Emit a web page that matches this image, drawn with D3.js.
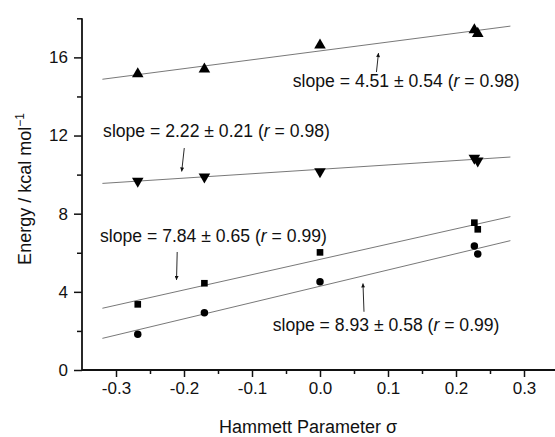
<!DOCTYPE html>
<html>
<head>
<meta charset="utf-8">
<script src="https://cdn.jsdelivr.net/npm/d3@7"></script>
<style>
  body { margin: 0; background: #fff; }
  text { font-family: "Liberation Sans", Arial, sans-serif; fill: #111; }
</style>
</head>
<body>
<svg width="555" height="437"></svg>
<script>
// data
var sigma = [-0.268, -0.170, 0.0, 0.227, 0.232];
var upTri = [15.15, 15.4, 16.63, 17.4, 17.22];
var downTri = [9.67, 9.89, 10.15, 10.85, 10.7];
var squares = [3.36, 4.44, 6.02, 7.54, 7.2];
var circles = [1.83, 2.93, 4.52, 6.35, 5.94];

// fit lines, drawn from sigma -0.32 to 0.28
var fitX = [-0.32, 0.28];
var fitUp = [14.88, 17.6];
var fitDown = [9.55, 10.9];
var fitSq = [3.16, 7.85];
var fitCirc = [1.62, 6.62];

var xTicks = [-0.3, -0.2, -0.1, 0.0, 0.1, 0.2, 0.3];
var xMinor = [-0.25, -0.15, -0.05, 0.05, 0.15, 0.25];
var yTicks = [0, 4, 8, 12, 16];
var yMinor = [2, 6, 10, 14, 18];

// annotations: text anchor [sigma, E], arrow from -> to
var labels = ["4.51 ± 0.54", "2.22 ± 0.21", "7.84 ± 0.65", "8.93 ± 0.58"];
var rVals = ["0.98", "0.98", "0.99", "0.99"];
var labelPos = [[-0.040, 14.48], [-0.319, 11.92], [-0.3235, 6.55], [-0.0696, 2.0]];
var arrowFrom = [[0.083, 15.25], [-0.1996, 11.36], [-0.210, 6.04], [0.0647, 2.98]];
var arrowTo = [[0.086, 16.22], [-0.2034, 10.16], [-0.211, 4.61], [0.0632, 4.43]];

var svg = d3.select("svg");

var x = d3.scaleLinear().domain([-0.35, 0.35]).range([82, 558]),
    y = d3.scaleLinear().domain([0, 18]).range([370, 18.3]);

var fmt = function (d) { return d.toFixed(1); };

// fit lines
var fits = [fitUp, fitDown, fitSq, fitCirc];
var line = d3.line()
    .x(function (d) { return x(d[0]); })
    .y(function (d) { return y(d[1]); });
fits.forEach(function (f) {
    svg.append("path")
        .attr("d", line([[fitX[0], f[0]], [fitX[1], f[1]]]))
        .attr("fill", "none")
        .attr("stroke", "#555")
        .attr("stroke-width", 0.8);
});

// markers
function drawSeries(vals, type, size, rot) {
    svg.append("g").selectAll("path")
        .data(vals)
        .enter().append("path")
        .attr("d", d3.symbol().type(type).size(size))
        .attr("transform", function (d, i) {
            return "translate(" + x(sigma[i]) + "," + y(d) + ")" + (rot ? " rotate(180)" : "");
        })
        .attr("fill", "#000");
}
drawSeries(upTri, d3.symbolTriangle, 58, false);
drawSeries(downTri, d3.symbolTriangle, 58, true);
drawSeries(squares, d3.symbolSquare, 44, false);
drawSeries(circles, d3.symbolCircle, 44, false);

// axes
var xAxis = d3.axisBottom(x).tickValues(xTicks).tickFormat(fmt).tickSize(7).tickPadding(5);
var xAxisMinor = d3.axisBottom(x).tickValues(xMinor).tickFormat("").tickSize(4);
var yAxis = d3.axisLeft(y).tickValues(yTicks).tickFormat(d3.format("d")).tickSize(8).tickPadding(6);
var yAxisMinor = d3.axisLeft(y).tickValues(yMinor).tickFormat("").tickSize(5);

function styleAxis(g) {
    g.select(".domain").remove();
    g.selectAll("line").attr("stroke", "#111").attr("stroke-width", 1.5);
    g.selectAll("text").attr("font-size", 17).attr("font-family", "Liberation Sans, Arial, sans-serif").attr("fill", "#111");
}

svg.append("g").attr("transform", "translate(0,370)").call(xAxis).call(styleAxis);
svg.append("g").attr("transform", "translate(0,370)").call(xAxisMinor).call(styleAxis);
svg.append("g").attr("transform", "translate(82,0)").call(yAxis).call(styleAxis);
svg.append("g").attr("transform", "translate(82,0)").call(yAxisMinor).call(styleAxis);

// axis lines
svg.append("line").attr("x1", 82).attr("x2", 555).attr("y1", 370).attr("y2", 370)
    .attr("stroke", "#111").attr("stroke-width", 1.8);
svg.append("line").attr("x1", 82).attr("x2", 82).attr("y1", y(18)).attr("y2", 370)
    .attr("stroke", "#111").attr("stroke-width", 1.8);

// arrowhead
svg.append("defs").append("marker")
    .attr("id", "arr")
    .attr("viewBox", "0 0 10 10")
    .attr("refX", 10).attr("refY", 5)
    .attr("markerWidth", 7).attr("markerHeight", 4)
    .attr("markerUnits", "userSpaceOnUse")
    .attr("orient", "auto")
    .append("path").attr("d", "M0,0L10,5L0,10Z").attr("fill", "#111");

// annotations
labels.forEach(function (s, i) {
    var t = svg.append("text")
        .attr("x", x(labelPos[i][0]))
        .attr("y", y(labelPos[i][1]))
        .attr("font-size", 17.6);
    t.append("tspan").text("slope = " + s + " (");
    t.append("tspan").attr("font-style", "italic").text("r");
    t.append("tspan").text(" = " + rVals[i] + ")");

    svg.append("line")
        .attr("x1", x(arrowFrom[i][0])).attr("y1", y(arrowFrom[i][1]))
        .attr("x2", x(arrowTo[i][0])).attr("y2", y(arrowTo[i][1]))
        .attr("stroke", "#111").attr("stroke-width", 0.9)
        .attr("marker-end", "url(#arr)");
});

// axis titles
svg.append("text")
    .attr("x", 308).attr("y", 433)
    .attr("text-anchor", "middle")
    .attr("font-size", 18)
    .text("Hammett Parameter σ");

var yt = svg.append("text")
    .attr("transform", "translate(31,189) rotate(-90)")
    .attr("text-anchor", "middle")
    .attr("font-size", 18);
yt.append("tspan").text("Energy / kcal mol");
yt.append("tspan").attr("font-size", 12).attr("dy", -7).text("−1");
</script>
</body>
</html>
